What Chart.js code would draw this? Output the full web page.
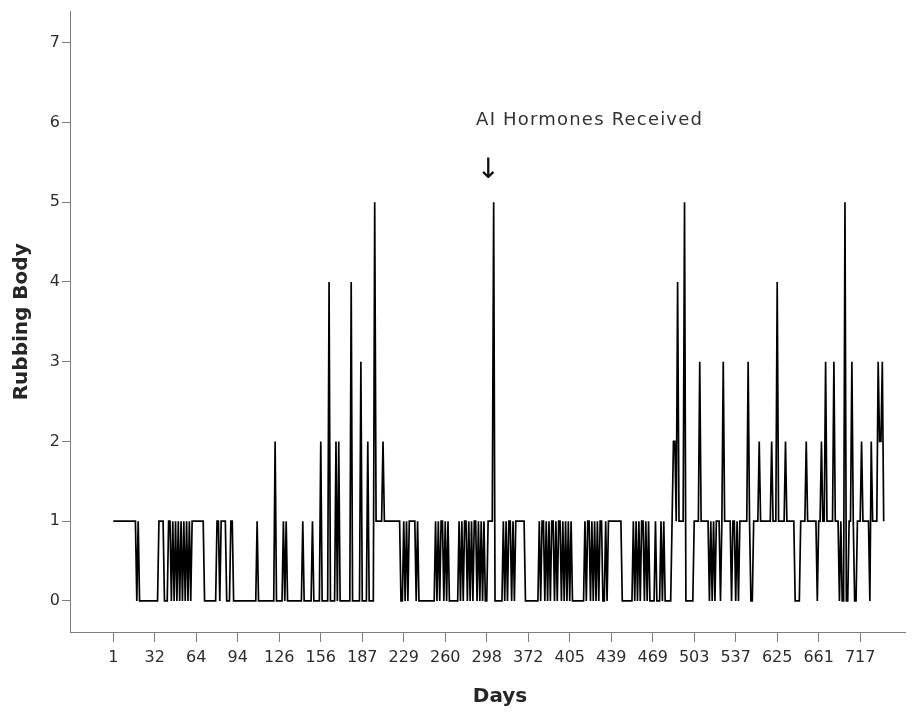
<!DOCTYPE html>
<html>
<head>
<meta charset="utf-8">
<script src="https://cdn.jsdelivr.net/npm/chart.js@4.4.1/dist/chart.umd.min.js"></script>
<style>
  html, body { margin: 0; padding: 0; background: #ffffff; }
  #wrap { width: 917px; height: 713px; }
</style>
</head>
<body>
<div id="wrap"><canvas id="c" width="917" height="713"></canvas></div>
<script>
// Day labels shown under every 30th observation
const tickLabels = ['1', '32', '64', '94', '126', '156', '187', '229', '260', '298',
                    '372', '405', '439', '469', '503', '537', '625', '661', '717'];
const pointsPerLabel = 30;

// Rubbing-body counts per observed day, one row per labelled interval
const rubbing = [
  1,1,1,1,1,1,1,1,1,1, 1,1,1,1,1,1,1,0,1,0, 0,0,0,0,0,0,0,0,0,0,
  0,0,0,1,1,1,1,0,0,0, 1,1,0,1,0,1,0,1,0,1, 0,1,0,1,0,1,0,1,1,1,
  1,1,1,1,1,1,0,0,0,0, 0,0,0,0,0,1,1,0,1,1, 1,1,0,0,0,1,1,0,0,0,
  0,0,0,0,0,0,0,0,0,0, 0,0,0,0,1,0,0,0,0,0, 0,0,0,0,0,0,0,2,0,0,
  0,0,0,1,0,1,0,0,0,0, 0,0,0,0,0,0,0,1,0,0, 0,0,0,0,1,0,0,0,0,0,
  2,0,0,0,0,0,4,0,0,0, 0,2,0,2,0,0,0,0,0,0, 0,0,4,0,0,0,0,0,0,3,
  0,0,0,0,2,0,0,0,0,5, 1,1,1,1,1,2,1,1,1,1, 1,1,1,1,1,1,1,1,0,0,
  1,0,1,0,1,1,1,1,1,0, 1,0,0,0,0,0,0,0,0,0, 0,0,0,1,0,1,0,1,1,0,
  1,0,1,0,0,0,0,0,0,0, 1,0,1,0,1,1,0,1,0,1, 0,1,1,0,1,0,1,0,1,0,
  0,1,1,1,1,5,0,0,0,0, 0,0,1,0,1,0,1,1,0,1, 0,1,1,1,1,1,1,1,0,0,
  0,0,0,0,0,0,0,0,1,0, 1,1,0,1,0,1,0,1,1,0, 1,0,1,1,0,1,0,1,0,1,
  0,1,0,0,0,0,0,0,0,0, 0,1,0,1,1,0,1,0,1,0, 1,0,1,1,0,0,1,0,1,1,
  1,1,1,1,1,1,1,1,0,0, 0,0,0,0,0,0,1,0,1,0, 1,0,1,1,0,1,0,1,0,0,
  0,0,1,0,0,0,1,0,1,0, 0,0,0,0,1,2,2,1,4,1, 1,1,1,5,0,0,0,0,0,0,
  1,1,1,1,3,1,1,1,1,1, 1,0,1,0,1,0,1,1,1,0, 1,3,1,1,1,1,1,0,1,1,
  0,1,0,1,1,1,1,1,1,3, 1,0,0,1,1,1,1,2,1,1, 1,1,1,1,1,1,2,1,1,1,
  4,1,1,1,1,1,2,1,1,1, 1,1,1,0,0,0,0,1,1,1, 1,2,1,1,1,1,1,1,1,0,
  1,1,2,1,1,3,1,1,1,1, 1,3,1,1,1,0,1,0,0,5, 0,0,1,1,3,1,0,0,1,1,
  1,2,1,1,1,1,1,0,2,1, 1,1,1,3,2,2,3,1
];

const yTicks = [0, 1, 2, 3, 4, 5, 6, 7];

// Note for the hormone treatment
const noteText = 'AI Hormones Received';
const noteIndex = 271;     // observation the arrow points to
const noteTextValue = 6.03;
const noteArrowValue = 5.4;

const axisGray = '#7d7d7d';
const textDark = '#262626';

const labelsPlugin = {
  id: 'labels',
  afterDraw(chart) {
    const c = chart.ctx;
    const xs = chart.scales.x, ys = chart.scales.y;
    c.save();
    c.fillStyle = textDark;

    // y-axis title
    c.save();
    c.translate(22, (chart.chartArea.top + chart.chartArea.bottom) / 2);
    c.rotate(-Math.PI / 2);
    c.font = 'bold 20px "DejaVu Sans"';
    c.textAlign = 'center';
    c.textBaseline = 'middle';
    c.fillText('Rubbing Body', 0, 0);
    c.restore();

    // x-axis title
    c.font = 'bold 20px "DejaVu Sans"';
    c.textAlign = 'center';
    c.textBaseline = 'middle';
    c.fillText('Days', 500, 697);

    // annotation with arrow
    const ax = xs.getPixelForValue(noteIndex);
    c.fillStyle = '#333333';
    c.font = '18px "DejaVu Sans"';
    c.letterSpacing = '1.2px';
    c.textAlign = 'left';
    c.textBaseline = 'middle';
    c.fillText(noteText, ax - 12, ys.getPixelForValue(noteTextValue));
    c.letterSpacing = '0px';
    c.fillStyle = '#111111';
    c.font = '28px "DejaVu Sans"';
    c.textAlign = 'center';
    c.fillText('\u2193', ax, ys.getPixelForValue(noteArrowValue));
    c.restore();
  }
};

const points = rubbing.map((v, i) => ({ x: i, y: v }));

new Chart(document.getElementById('c'), {
  type: 'line',
  data: {
    datasets: [{
      data: points,
      borderColor: '#000000',
      borderWidth: 1.7,
      pointRadius: 0,
      tension: 0,
      fill: false
    }]
  },
  options: {
    responsive: false,
    animation: false,
    devicePixelRatio: 1,
    layout: { padding: { top: 10, right: 12, left: 0, bottom: 0 } },
    plugins: { legend: { display: false }, tooltip: { enabled: false } },
    scales: {
      x: {
        type: 'linear',
        min: -31.3,
        max: 572.4,
        grid: { drawOnChartArea: false, drawTicks: true, tickLength: 10, color: axisGray, lineWidth: 1 },
        border: { color: axisGray, width: 1 },
        ticks: {
          autoSkip: false,
          maxRotation: 0,
          color: '#2e2e2e',
          font: { family: 'DejaVu Sans', size: 16 },
          padding: 6,
          callback: (v, i) => tickLabels[i]
        },
        afterBuildTicks: s => { s.ticks = tickLabels.map((_, i) => ({ value: i * pointsPerLabel })); },
        afterFit: s => { s.height = 81; }
      },
      y: {
        type: 'linear',
        min: -0.39,
        max: 7.39,
        grid: { drawOnChartArea: false, drawTicks: true, tickLength: 8, color: axisGray, lineWidth: 1 },
        border: { color: axisGray, width: 1 },
        ticks: {
          color: '#2e2e2e',
          font: { family: 'DejaVu Sans', size: 16 },
          padding: 2
        },
        afterBuildTicks: s => { s.ticks = yTicks.map(v => ({ value: v })); },
        afterFit: s => { s.width = 70; }
      }
    }
  },
  plugins: [labelsPlugin]
});
</script>
</body>
</html>
